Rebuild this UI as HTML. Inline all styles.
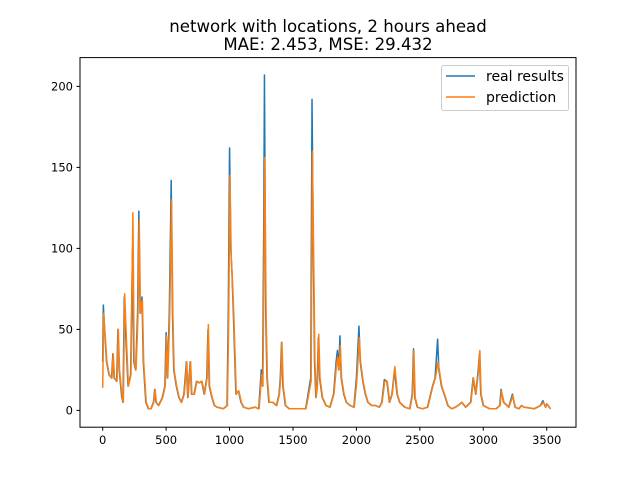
<!DOCTYPE html>
<html><head><meta charset="utf-8"><style>
body{margin:0;background:#fff;}
svg{display:block;font-family:"DejaVu Sans","Liberation Sans",sans-serif;}
</style></head><body>
<svg id="chart" width="640" height="480">
<rect width="640" height="480" fill="#fff"/>
<text x="328" y="32" text-anchor="middle" font-size="16.6">network with locations, 2 hours ahead</text>
<text x="328" y="50" text-anchor="middle" font-size="16.6">MAE: 2.453, MSE: 29.432</text>
<g id="plot"></g>
<rect x="80" y="57.6" width="496" height="369.6" fill="none" stroke="#000" stroke-width="1"/>
<g>
<rect x="441.5" y="65.5" width="127" height="45" rx="2" fill="#fff" fill-opacity="0.8" stroke="#ccc"/>
<line x1="446" y1="76" x2="475" y2="76" stroke="#1f77b4" stroke-width="1.5"/>
<text x="486" y="81" font-size="14">real results</text>
<line x1="446" y1="97" x2="475" y2="97" stroke="#ff7f0e" stroke-width="1.5"/>
<text x="486" y="102" font-size="14">prediction</text>
</g>
</svg>
<script>
const xTicks=[0,500,1000,1500,2000,2500,3000,3500];
const yTicks=[0,50,100,150,200];
const realX=[0,5,15,30,50,70,80,90,110,120,130,150,160,170,185,200,220,235,245,260,275,285,295,310,320,340,360,380,400,410,420,440,470,490,500,510,525,540,550,560,580,600,620,640,660,670,690,700,720,740,760,780,800,820,830,840,860,880,900,950,980,990,1000,1010,1020,1030,1050,1070,1090,1110,1150,1200,1230,1250,1260,1270,1275,1285,1295,1310,1340,1370,1390,1400,1410,1420,1440,1470,1550,1600,1640,1650,1660,1670,1680,1690,1700,1710,1730,1760,1790,1820,1840,1850,1860,1870,1880,1900,1920,1950,1980,2000,2020,2030,2050,2070,2090,2120,2150,2180,2200,2220,2240,2260,2280,2300,2320,2340,2380,2420,2440,2450,2460,2480,2520,2560,2600,2620,2640,2650,2670,2700,2720,2750,2780,2800,2830,2860,2900,2920,2940,2960,2970,2980,3000,3050,3100,3130,3140,3160,3200,3230,3250,3280,3300,3320,3400,3450,3470,3490,3500,3530];
const realY=[30,65,50,30,22,20,35,20,18,50,25,8,5,70,40,15,22,100,30,25,60,123,60,70,30,5,1,1,5,13,5,3,8,15,48,20,60,142,60,25,15,8,5,10,30,8,30,10,10,18,17,18,10,20,50,15,8,3,2,1,3,60,162,100,83,60,10,12,5,2,1,2,1,25,15,120,207,60,20,5,5,3,10,20,42,15,3,1,1,1,20,192,100,30,8,15,45,20,8,3,2,10,30,37,25,46,20,10,5,3,2,20,52,30,18,10,5,3,3,2,5,19,18,5,10,25,10,5,2,1,10,38,8,2,1,2,15,20,44,25,15,8,3,1,2,3,5,2,5,20,10,25,35,10,3,1,1,3,13,5,2,10,2,1,3,2,1,3,6,2,4,1];
const predX=[0,8,18,33,53,73,83,93,113,123,133,153,163,173,188,203,223,238,248,263,278,288,298,313,323,343,363,383,403,413,423,443,473,493,503,513,528,543,553,563,583,603,623,643,663,673,693,703,723,743,763,783,803,823,833,843,863,883,903,953,983,993,1003,1013,1023,1033,1053,1073,1093,1113,1153,1203,1233,1253,1263,1273,1278,1288,1298,1313,1343,1373,1393,1403,1413,1423,1443,1473,1553,1603,1643,1653,1663,1673,1683,1693,1703,1713,1733,1763,1793,1823,1843,1853,1863,1873,1883,1903,1923,1953,1983,2003,2023,2033,2053,2073,2093,2123,2153,2183,2203,2223,2243,2263,2283,2303,2323,2343,2383,2423,2443,2453,2463,2483,2523,2563,2603,2623,2643,2653,2673,2703,2723,2753,2783,2803,2833,2863,2903,2923,2943,2963,2973,2983,3003,3053,3103,3133,3143,3163,3203,3233,3253,3283,3303,3323,3403,3453,3473,3493,3503,3530];
const predY=[14,60,48,30,22,20,35,20,18,50,25,8,5,72,42,15,22,122,30,25,58,117,60,68,30,5,1,1,5,13,5,3,8,15,46,20,58,130,60,25,15,8,5,10,30,8,30,10,10,18,17,18,10,20,53,15,8,3,2,1,3,55,145,95,80,60,10,12,5,2,1,2,1,22,15,110,156,60,20,5,5,3,10,20,42,15,3,1,1,1,18,160,95,30,8,15,47,20,8,3,2,10,28,33,25,40,20,10,5,3,2,18,45,30,18,10,5,3,3,2,5,18,18,5,10,27,10,5,2,1,10,37,8,2,1,2,15,20,30,25,15,8,3,1,2,3,5,2,5,20,10,25,37,10,3,1,1,3,12,5,2,9,2,1,3,2,1,3,5,2,4,1];
const X=v=>102.7+v*0.12686;
const Y=v=>410.4-v*1.62;
const svg=document.getElementById('chart');
const plot=document.getElementById('plot');
const NS='http://www.w3.org/2000/svg';
function mk(t,a){const e=document.createElementNS(NS,t);for(const k in a)e.setAttribute(k,a[k]);return e;}
xTicks.forEach(t=>{
  const g=mk('g',{});
  
  
  g.appendChild(mk('line',{x1:X(t),x2:X(t),y1:427.2,y2:430.7,stroke:'#000'}));
  const tx=mk('text',{x:X(t),y:444,'text-anchor':'middle','font-size':'11.5'});tx.textContent=t;g.appendChild(tx);
  plot.appendChild(g);
});
yTicks.forEach(t=>{
  const g=mk('g',{});
  
  
  g.appendChild(mk('line',{x1:76.5,x2:80,y1:Y(t),y2:Y(t),stroke:'#000'}));
  const tx=mk('text',{x:73,y:Y(t)+4,'text-anchor':'end','font-size':'11.5'});tx.textContent=t;g.appendChild(tx);
  plot.appendChild(g);
});
function line(xs,ys,c,name){
  const p=mk('polyline',{points:xs.map((x,i)=>X(x)+','+Y(ys[i])).join(' '),fill:'none',stroke:c,'stroke-width':1.5,'stroke-linejoin':'round'});
  
  
  plot.appendChild(p);
}
line(realX,realY,'#1f77b4','real-results-line');
line(predX,predY,'#ff7f0e','prediction-line');
</script>
</body></html>
